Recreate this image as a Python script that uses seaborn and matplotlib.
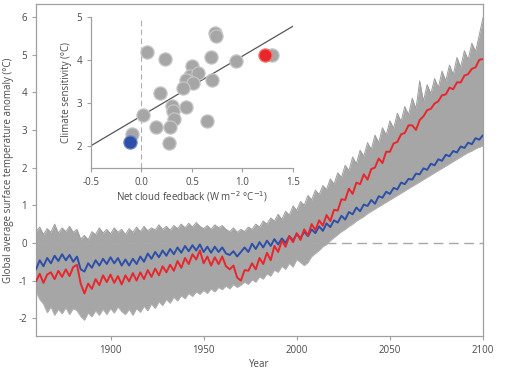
import numpy as np
import pandas as pd
import seaborn as sns
import matplotlib.pyplot as plt


# ---- time series (every 2 years) ----
years = np.arange(1860, 2101, 2)

red_model = [
    -1.02, -0.82, -1.06, -0.84, -0.78, -0.96, -0.74, -0.90, -0.70, -0.88,
    -0.64, -0.58, -1.08, -1.34, -1.08, -1.22, -0.96, -1.12, -0.86, -1.04,
    -0.84, -1.06, -0.88, -1.10, -0.86, -1.02, -0.80, -1.00, -0.78, -0.96,
    -0.72, -0.90, -0.68, -0.86, -0.62, -0.78, -0.58, -0.74, -0.48, -0.66,
    -0.40, -0.56, -0.30, -0.44, -0.20, -0.54, -0.36, -0.60, -0.38, -0.56,
    -0.36, -0.62, -0.70, -0.60, -0.92, -1.00, -0.72, -0.74, -0.54, -0.70,
    -0.40, -0.56, -0.26, -0.46, -0.08, -0.24, 0.06, -0.10, 0.18, 0.02,
    0.26, 0.08, 0.36, 0.20, 0.50, 0.34, 0.60, 0.46, 0.74, 0.58,
    0.88, 0.86, 1.16, 1.14, 1.44, 1.30, 1.60, 1.56, 1.82, 1.68,
    1.96, 2.00, 2.24, 2.12, 2.42, 2.42, 2.64, 2.68, 2.88, 2.92,
    3.12, 3.12, 3.00, 3.26, 3.36, 3.52, 3.56, 3.70, 3.76, 3.92,
    3.94, 4.12, 4.08, 4.26, 4.26, 4.44, 4.48, 4.62, 4.66, 4.86,
    4.88,
]

blue_model = [
    -0.70, -0.46, -0.62, -0.40, -0.54, -0.34, -0.48, -0.30, -0.46, -0.32,
    -0.50, -0.36, -0.70, -0.76, -0.54, -0.66, -0.46, -0.60, -0.42, -0.56,
    -0.38, -0.54, -0.40, -0.60, -0.44, -0.60, -0.42, -0.56, -0.36, -0.50,
    -0.28, -0.42, -0.24, -0.38, -0.20, -0.34, -0.16, -0.30, -0.12, -0.26,
    -0.08, -0.22, -0.06, -0.20, -0.04, -0.24, -0.10, -0.26, -0.10, -0.24,
    -0.12, -0.28, -0.32, -0.22, -0.36, -0.24, -0.12, -0.24, -0.02, -0.16,
    0.02, -0.12, 0.06, -0.08, 0.10, -0.04, 0.12, 0.00, 0.18, 0.06,
    0.24, 0.12, 0.30, 0.18, 0.36, 0.26, 0.44, 0.32, 0.52, 0.42,
    0.60, 0.54, 0.72, 0.62, 0.82, 0.76, 0.94, 0.84, 1.02, 0.98,
    1.14, 1.04, 1.24, 1.20, 1.36, 1.30, 1.46, 1.42, 1.60, 1.56,
    1.70, 1.68, 1.84, 1.82, 1.98, 1.94, 2.10, 2.06, 2.22, 2.18,
    2.34, 2.30, 2.44, 2.40, 2.56, 2.52, 2.66, 2.62, 2.78, 2.74,
    2.86,
]

ensemble_upper = [
    0.30, 0.42, 0.22, 0.38, 0.28, 0.50, 0.26, 0.40, 0.30, 0.44,
    0.28, 0.36, 0.10, 0.20, 0.08, 0.30, 0.22, 0.40, 0.26, 0.36,
    0.24, 0.40, 0.28, 0.36, 0.22, 0.38, 0.28, 0.42, 0.30, 0.44,
    0.32, 0.40, 0.34, 0.48, 0.36, 0.44, 0.34, 0.46, 0.38, 0.50,
    0.40, 0.52, 0.42, 0.54, 0.44, 0.38, 0.46, 0.36, 0.48, 0.40,
    0.46, 0.36, 0.30, 0.40, 0.28, 0.36, 0.30, 0.42, 0.36, 0.50,
    0.42, 0.58, 0.50, 0.66, 0.58, 0.76, 0.62, 0.84, 0.74, 0.98,
    0.86, 1.10, 1.00, 1.26, 1.14, 1.40, 1.28, 1.52, 1.42, 1.70,
    1.56, 1.86, 1.74, 2.06, 1.92, 2.28, 2.10, 2.46, 2.30, 2.66,
    2.48, 2.86, 2.66, 3.06, 2.86, 3.24, 3.04, 3.44, 3.22, 3.62,
    3.40, 3.84, 3.56, 4.30, 3.76, 4.20, 3.96, 4.36, 4.12, 4.56,
    4.30, 4.72, 4.46, 4.92, 4.66, 5.10, 4.86, 5.30, 5.08, 5.52,
    5.98,
]

ensemble_lower = [
    -1.30, -1.50, -1.62, -1.85, -1.70, -1.92, -1.76, -1.88, -1.72, -1.90,
    -1.74, -1.80, -1.95, -2.05, -1.86, -1.96, -1.80, -1.92, -1.76, -1.90,
    -1.74, -1.86, -1.70, -1.82, -1.90, -1.76, -1.92, -1.74, -1.84, -1.68,
    -1.80, -1.62, -1.74, -1.56, -1.66, -1.50, -1.60, -1.44, -1.54, -1.40,
    -1.48, -1.34, -1.42, -1.30, -1.36, -1.26, -1.34, -1.22, -1.30, -1.18,
    -1.24, -1.14, -1.22, -1.10, -1.18, -1.12, -1.04, -1.10, -0.98, -1.04,
    -0.90, -0.96, -0.82, -0.88, -0.72, -0.78, -0.62, -0.70, -0.54, -0.64,
    -0.44, -0.52, -0.60, -0.52, -0.36, -0.28, -0.20, -0.10, -0.04, 0.06,
    0.14, 0.22, 0.30, 0.36, 0.44, 0.50, 0.58, 0.64, 0.70, 0.78,
    0.84, 0.90, 0.96, 1.02, 1.08, 1.14, 1.20, 1.26, 1.32, 1.38,
    1.44, 1.50, 1.56, 1.62, 1.68, 1.74, 1.80, 1.86, 1.92, 1.98,
    2.04, 2.10, 2.16, 2.22, 2.28, 2.34, 2.40, 2.44, 2.50, 2.54,
    2.58,
]

# ---- inset scatter: net cloud feedback vs climate sensitivity ----
cloud_feedback = [
    0.05, 0.23, 0.73, 0.74, 0.69, 0.94, 1.29, 0.50, 0.48, 0.56,
    0.44, 0.51, 0.41, 0.70, 0.18, 0.02, 0.30, 0.31, 0.32, 0.44,
    0.14, 0.28, 0.27, 0.65, -0.09,
]
sensitivity = [
    4.19, 4.03, 4.63, 4.57, 4.08, 3.99, 4.11, 3.86, 3.63, 3.71,
    3.53, 3.46, 3.35, 3.53, 3.24, 2.72, 2.94, 2.83, 2.63, 2.92,
    2.45, 2.45, 2.07, 2.60, 2.29,
]
high_model = (1.22, 4.13)
low_model = (-0.11, 2.11)

GRAY = "#a6a6a6"
RED = "#e8262c"
BLUE = "#2d4fa6"
AXIS = "#a0a0a0"
TEXT = "#4a4a4a"

sns.set_style("ticks")
plt.rcParams["font.family"] = ["Open Sans", "DejaVu Sans"]
plt.rcParams["axes.unicode_minus"] = False
plt.rcParams["font.size"] = 7

df = pd.DataFrame(
    {
        "Year": np.concatenate([years, years]),
        "Anomaly": np.concatenate([blue_model, red_model]),
        "Model": ["low"] * len(years) + ["high"] * len(years),
    }
)

fig = plt.figure(figsize=(5.15, 3.69), dpi=100)
ax = fig.add_axes([0.0699, 0.0894, 0.868, 0.8997])

# model ensemble spread
ax.fill_between(years, ensemble_lower, ensemble_upper, color=GRAY, lw=0, zorder=1)
ax.plot(years, ensemble_upper, color="#9c9c9c", lw=0.7, zorder=1)
ax.plot(years, ensemble_lower, color="#b0b0b0", lw=0.7, zorder=1)
ax.axhline(0, color="#a8a8a8", lw=1, dashes=(7, 4), zorder=2)
sns.lineplot(
    data=df, x="Year", y="Anomaly", hue="Model",
    palette={"low": BLUE, "high": RED}, hue_order=["low", "high"],
    linewidth=1.4, legend=False, ax=ax, zorder=3,
)

ax.set_xlim(1860, 2100)
ax.set_ylim(-2.47, 6.34)
ax.set_xticks([1900, 1950, 2000, 2050, 2100])
ax.set_yticks(range(-2, 7))
ax.set_xlabel("Year", color=TEXT, fontsize=7, labelpad=2)
ax.set_ylabel("Global average surface temperature anomaly (°C)",
              color=TEXT, fontsize=7, labelpad=3)
for s in ax.spines.values():
    s.set_color(AXIS)
    s.set_linewidth(0.9)
ax.tick_params(colors=AXIS, labelcolor=TEXT, labelsize=7, length=3, width=0.8)

# ---- inset ----
ins = fig.add_axes([0.1767, 0.5447, 0.392, 0.409])
ins.set_xlim(-0.5, 1.5)
ins.set_ylim(1.5, 5)
ins.axvline(0, color="#b0b0b0", lw=0.8, dashes=(5, 3), zorder=1)

all_x = cloud_feedback + [high_model[0], low_model[0]]
all_y = sensitivity + [high_model[1], low_model[1]]
sns.regplot(
    x=all_x, y=all_y, scatter=False, ci=None, truncate=False,
    color="#555555", line_kws={"lw": 0.9, "zorder": 2}, ax=ins,
)
sns.scatterplot(
    x=cloud_feedback, y=sensitivity, s=90, color="#a6a6a6",
    edgecolor="#c6c6c6", linewidth=0.9, ax=ins, zorder=3,
)
sns.scatterplot(
    x=[high_model[0]], y=[high_model[1]], s=90, color=RED,
    edgecolor="#f07a6a", linewidth=0.9, ax=ins, zorder=4,
)
sns.scatterplot(
    x=[low_model[0]], y=[low_model[1]], s=90, color=BLUE,
    edgecolor="#6a82c8", linewidth=0.9, ax=ins, zorder=4,
)

ins.set_xticks([-0.5, 0.0, 0.5, 1.0, 1.5])
ins.set_xticklabels(["-0.5", "0.0", "0.5", "1.0", "1.5"])
ins.set_yticks([2, 3, 4, 5])
ins.set_xlabel("Net cloud feedback (W m$^{-2}$ °C$^{-1}$)", color=TEXT,
               fontsize=7, labelpad=1)
ins.set_ylabel("Climate sensitivity (°C)", color=TEXT, fontsize=7, labelpad=3)
ins.patch.set_alpha(0)
sns.despine(ax=ins)
for s in ("left", "bottom"):
    ins.spines[s].set_color(AXIS)
    ins.spines[s].set_linewidth(0.9)
ins.tick_params(colors=AXIS, labelcolor=TEXT, labelsize=7, length=3, width=0.8)

fig.savefig("out.png", dpi=100)
